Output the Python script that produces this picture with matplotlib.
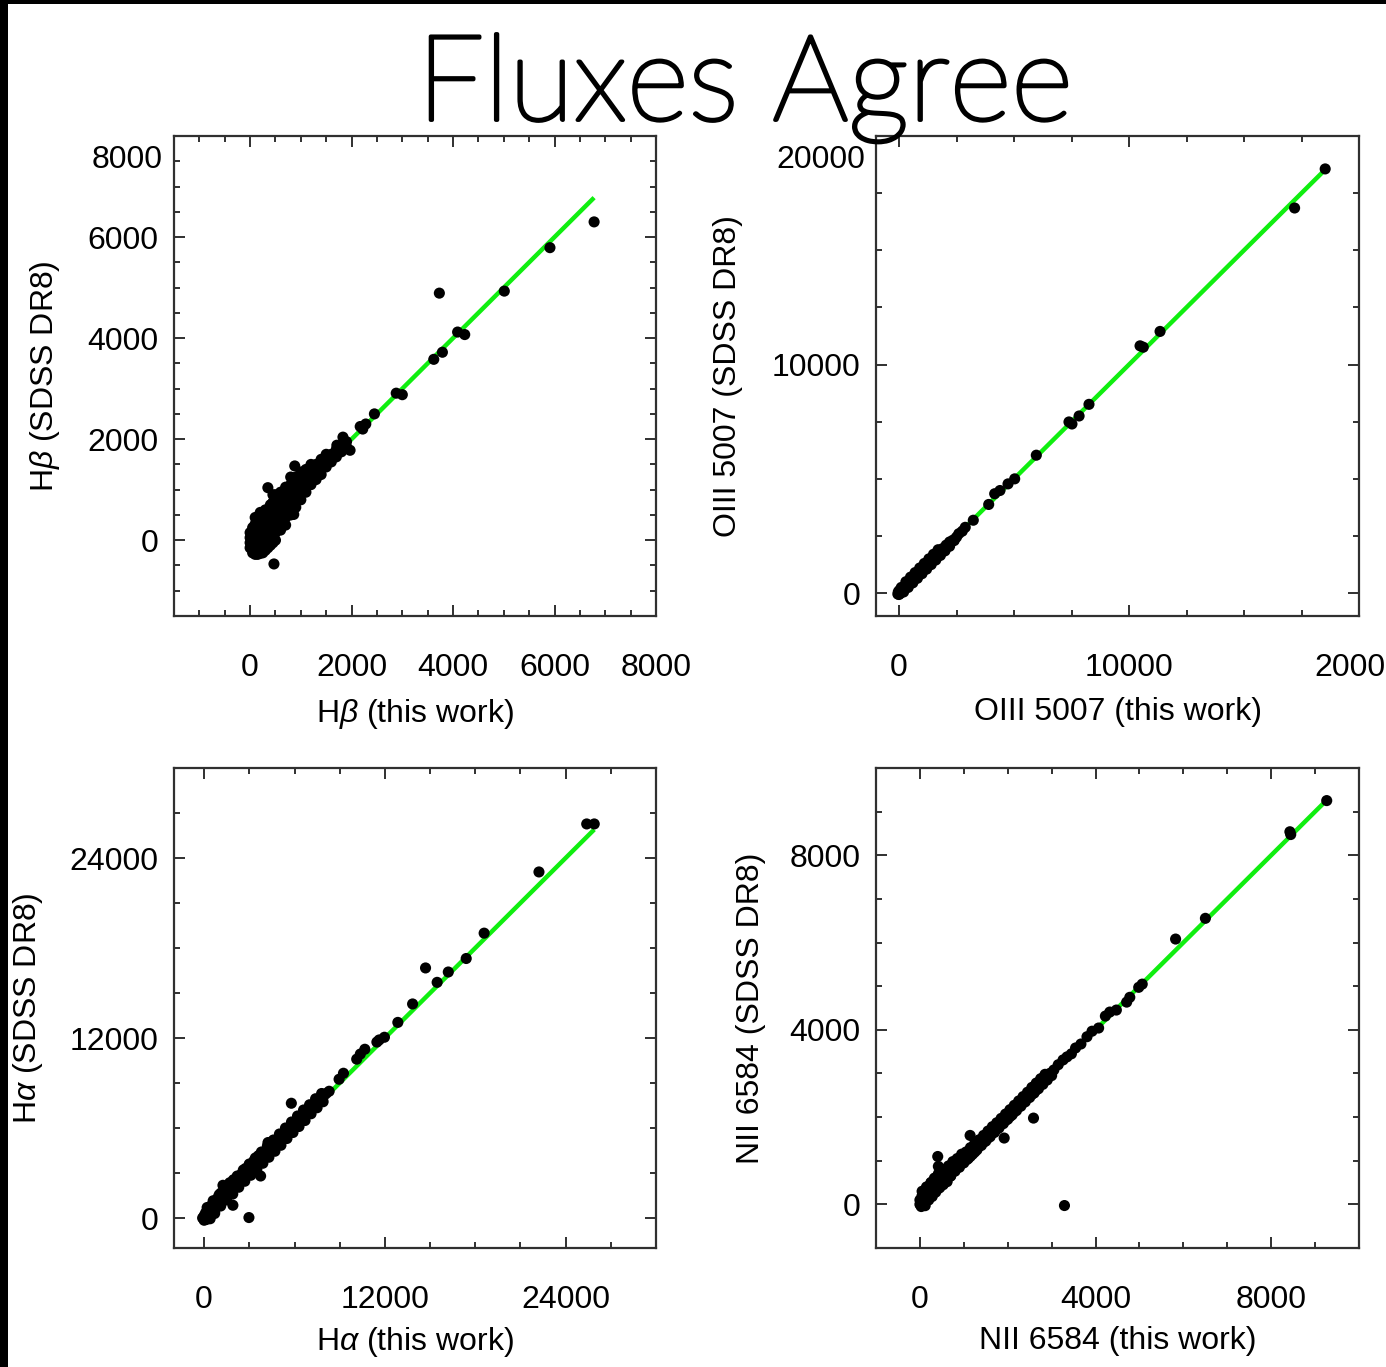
import matplotlib
matplotlib.use("Agg")
import matplotlib.pyplot as plt
import matplotlib.patheffects as pe
from matplotlib.patches import Rectangle
from matplotlib.ticker import MultipleLocator

plt.rcParams['font.family'] = ['Liberation Sans', 'DejaVu Sans']
plt.rcParams['mathtext.fontset'] = 'custom'
plt.rcParams['mathtext.rm'] = 'Liberation Sans'
plt.rcParams['mathtext.it'] = 'Liberation Sans:italic'

TITLE = "Fluxes Agree"

# ---------------- Panel 1: H-beta ----------------
hb_x = [0, 0, 0, 0,
        50, 50, 50, 50, 50, 50,
        100, 100, 100, 100, 100, 100, 100, 100,
        150, 150, 150, 150, 150, 150, 150, 150,
        200, 200, 200, 200, 200, 200, 200, 200, 200,
        250, 250, 250, 250, 250, 250, 250, 250,
        300, 300, 300, 300, 300, 300, 300, 300, 300,
        350, 350, 350, 350, 350, 350, 350, 350, 350,
        400, 400, 400, 400, 400, 400, 400, 400, 400,
        450, 450, 450, 450, 450, 450, 450, 450, 450,
        500, 500, 500, 500, 500, 500, 500,
        600, 600, 600, 600, 600, 600,
        700, 700, 700, 700, 700, 700,
        800, 800, 800, 800, 800, 800,
        860, 880, 900, 900, 900, 900, 900,
        1000, 1000, 1000, 1000, 1000,
        1100, 1100, 1100, 1100,
        1200, 1200, 1200, 1200,
        1300, 1300, 1300,
        1400, 1400, 1400,
        1500, 1500, 1500,
        1600, 1600,
        1700, 1700, 1710,
        1800, 1800, 1830,
        1900, 1900, 1970,
        2170, 2220, 2280, 2450, 2880, 3000, 3620, 3730, 3790, 4090, 4230, 5010, 5910, 6780,
        470]
hb_y = [-150, -50, 50, 150,
        -250, -150, -50, 50, 150, 250,
        -280, -180, -80, 20, 120, 220, 320, 450,
        -280, -180, -80, 20, 120, 220, 320, 420,
        -260, -160, -60, 40, 140, 240, 340, 450, 550,
        -250, -150, -50, 50, 150, 250, 350, 450,
        -200, -100, 0, 100, 200, 300, 400, 500, 600,
        -150, -50, 50, 150, 250, 350, 450, 550, 1040,
        -100, 0, 100, 200, 300, 400, 500, 600, 700,
        -50, 100, 200, 300, 400, 500, 600, 750, 900,
        0, 150, 300, 450, 600, 750, 900,
        200, 350, 500, 650, 800, 950,
        300, 450, 600, 750, 900, 1050,
        500, 650, 800, 950, 1100, 1250,
        510, 1470, 650, 800, 950, 1100, 1250,
        800, 950, 1100, 1250, 1350,
        950, 1100, 1250, 1400,
        1100, 1250, 1400, 1500,
        1200, 1350, 1500,
        1300, 1450, 1600,
        1450, 1600, 1700,
        1550, 1700,
        1650, 1800, 1880,
        1750, 1850, 2040,
        1850, 1950, 1780,
        2250, 2200, 2300, 2500, 2910, 2880, 3580, 4890, 3720, 4120, 4070, 4930, 5790, 6300,
        -470]
hb_ticks = [0, 2000, 4000, 6000, 8000]
hb_ticklabels = ["0", "2000", "4000", "6000", "8000"]

# ---------------- Panel 2: [OIII] 5007 ----------------
o3_x = [-50, -30, 0, 20, 40, 60, 80, 100, 130, 160, 200, 230, 270, 300, 350, 400, 450, 500,
        560, 620, 680, 740, 800, 870, 940, 1000, 1080, 1150, 1230, 1300, 1380, 1450, 1530,
        1600, 1680, 1750, 1830, 1900, 1980, 2050, 2130, 2200, 2280, 2350, 2750, 2880, 3230,
        3900, 4160, 4390, 4740, 5030, 5970, 7390, 7520, 7830, 8260, 10480, 10620, 11350,
        17200, 18530,
        100, 300, 500, 700, 900, 1100, 1300, 1500, 1700,
        200, 400, 600, 800, 1000, 1200, 1400, 1600, 1800, 2000, 2200, 2400, 2500, 2600]
o3_y = [-40, 60, -60, 120, -20, 40, 160, 80, 60, 200, 150, 300, 220, 350, 300, 470, 400, 560,
        500, 680, 620, 800, 720, 930, 880, 1080, 1020, 1240, 1180, 1370, 1330, 1520, 1480,
        1650, 1620, 1800, 1780, 1950, 1930, 2100, 2080, 2240, 2250, 2320, 2710, 2880, 3190,
        3880, 4350, 4490, 4780, 5000, 6035, 7490, 7400, 7750, 8260, 10820, 10760, 11450,
        16850, 18560,
        250, 500, 700, 900, 1100, 1300, 1500, 1700, 1900,
        50, 250, 450, 650, 850, 1050, 1250, 1450, 1650, 1850, 2050, 2300, 2450, 2600]
o3_ticks = [0, 10000, 20000]
o3_ticklabels = ["0", "10000", "20000"]

# ---------------- Panel 3: H-alpha ----------------
ha_x = [-100, 0, 0, 100, 150, 200, 300, 350, 400, 450, 500, 600, 650, 700, 800, 850, 950, 1000,
        1100, 1200, 1250, 1300, 1400, 1500, 1600, 1700, 1800, 1910, 1950, 2100, 2200, 2350, 2500,
        2600, 2750, 2900, 2975, 3000, 3150, 3300, 3450, 3600, 3750, 3800, 3950, 4100, 4240, 4300,
        4450, 4600, 4750, 4900, 5050, 5200, 5350, 5500, 5650, 5790, 5800, 5950, 6100, 6250, 6400,
        6550, 6700, 6850, 7000, 7150, 7300, 7450, 7600, 7750, 7900, 8100, 8300,
        8960, 9250, 10130, 10370, 10670, 11470, 11620, 11970, 12860, 13840, 14700, 15470,
        16210, 17400, 18590, 22230, 25400, 25900,
        200, 600, 1000, 1400, 1800, 2200, 2600, 3000, 3400, 3800, 4200, 4600, 5000, 5400,
        5800, 6200, 6600, 7000, 7400, 7800,
        300, 700, 1100, 1500, 1900, 2300, 2700, 3100, 3500, 3900, 4300, 4700, 5100, 5500,
        5900, 6300, 6700, 7100, 7500, 7900]
ha_y = [0, -150, 150, 350, -100, 150, 550, 250, -50, 800, 400, 1000, 600, 300, 1200, 850, 1400, 1100,
        1650, 1300, 2180, 1850, 1550, 2050, 1800, 2350, 2050, 850, 2550, 2300, 2750, 2500, 2950,
        2750, 3300, 3100, 30, 3550, 3400, 3800, 3600, 4150, 2800, 3950, 4400, 4250, 5030, 4600,
        4850, 4750, 5150, 5050, 5450, 5350, 5700, 5650, 6000, 7650, 5950, 6300, 6250, 6600, 6550,
        6900, 6850, 7200, 7150, 7500, 7450, 7700, 7750, 8000, 8050, 8300, 8450,
        9250, 9650, 10590, 10930, 11250, 11730, 11870, 12050, 13040, 14270, 16670, 15710,
        16400, 17300, 18990, 23070, 26270, 26270,
        700, 1150, 1550, 1950, 2350, 2800, 3200, 3600, 4000, 4400, 4800, 5200, 5600, 6000,
        6400, 6800, 7200, 7550, 7950, 8300,
        0, 400, 800, 1200, 1600, 2050, 2450, 2850, 3250, 3650, 4050, 4450, 4850, 5300,
        5700, 6100, 6500, 6950, 7350, 7750]
ha_ticks = [0, 12000, 24000]
ha_ticklabels = ["0", "12000", "24000"]

# ---------------- Panel 4: [NII] 6584 ----------------
n2_x = [0, 0, 30, 50, 80, 100, 120, 150, 180, 200, 230, 260, 280, 300, 330, 360, 380, 406, 420,
        420, 450, 480, 500, 530, 560, 600, 620, 650, 700, 720, 760, 800, 850, 900, 950, 1000,
        1067, 1100, 1143, 1150, 1200, 1250, 1300, 1350, 1400, 1450, 1500, 1550, 1600, 1650,
        1700, 1750, 1800, 1850, 1919, 1900, 1950, 2000, 2055, 2100, 2150, 2200, 2250, 2300,
        2350, 2400, 2450, 2500, 2587, 2550, 2600, 2650, 2700, 2750, 2800, 2850, 2900, 2968,
        3050, 3150, 3260, 3292, 3350, 3450, 3545, 3667, 3805, 3920, 4070, 4224, 4324, 4474,
        4709, 4780, 4983, 5063, 5823, 6502, 8426, 8445, 9265,
        50, 150, 250, 350, 450, 550, 650, 750, 850, 950, 1050, 1150, 1250, 1350, 1450, 1550,
        1650, 1750, 1850, 1950, 2050, 2150, 2250, 2350, 2450, 2550, 2650, 2750, 2850,
        100, 200, 300, 400, 500, 600, 700, 800, 900, 1000, 1100, 1200, 1300, 1400, 1500, 1600,
        1700, 1800, 1900, 2000, 2100, 2200, 2300, 2400, 2500, 2600, 2700, 2800, 2900, 3000]
n2_y = [0, 100, -50, 200, 50, 300, -30, 150, 400, 100, 250, 500, 180, 350, 600, 280, 450, 1097, 871,
        700, 380, 550, 800, 450, 650, 750, 520, 850, 650, 900, 780, 950, 850, 1050, 950, 1100,
        1024, 1200, 1580, 1100, 1280, 1200, 1380, 1330, 1450, 1420, 1560, 1520, 1650, 1630,
        1750, 1720, 1850, 1830, 1520, 1950, 1920, 2050, 2014, 2150, 2120, 2250, 2230, 2350,
        2330, 2450, 2430, 2550, 1977, 2520, 2700, 2620, 2750, 2800, 2780, 2880, 2950, 3006,
        3080, 3200, 3310, -27, 3380, 3450, 3584, 3675, 3842, 3968, 4041, 4315, 4407, 4453,
        4635, 4745, 4974, 5047, 6080, 6555, 8539, 8475, 9253,
        300, 400, 500, 600, 700, 800, 880, 980, 1050, 1150, 1200, 1300, 1400, 1480, 1580, 1680,
        1780, 1870, 1970, 2070, 2170, 2270, 2370, 2470, 2570, 2680, 2780, 2880, 2980,
        50, 150, 250, 350, 450, 560, 650, 760, 850, 950, 1050, 1150, 1250, 1350, 1450, 1550,
        1650, 1750, 1850, 1950, 2050, 2150, 2250, 2350, 2450, 2550, 2650, 2750, 2850, 2950]
n2_ticks = [0, 4000, 8000]
n2_ticklabels = ["0", "4000", "8000"]

panels = [
    dict(x=hb_x, y=hb_y, lim=(-1500, 8000), ticks=hb_ticks, labels=hb_ticklabels, minor=500,
         xlabel=r'H$\beta$ (this work)', ylabel=r'H$\beta$ (SDSS DR8)',
         rect=(174, 136, 656, 616), top_label=True, ylab_x=-0.232, xlab_y=-0.168),
    dict(x=o3_x, y=o3_y, lim=(-1000, 20000), ticks=o3_ticks, labels=o3_ticklabels, minor=2500,
         xlabel='OIII 5007 (this work)', ylabel='OIII 5007 (SDSS DR8)',
         rect=(876, 136, 1359, 616), top_label=True, ylab_x=-0.276, xlab_y=-0.168),
    dict(x=ha_x, y=ha_y, lim=(-2000, 30000), ticks=ha_ticks, labels=ha_ticklabels, minor=3000,
         xlabel=r'H$\alpha$ (this work)', ylabel=r'H$\alpha$ (SDSS DR8)',
         rect=(174, 768, 656, 1248), top_label=False, ylab_x=-0.268, xlab_y=-0.160),
    dict(x=n2_x, y=n2_y, lim=(-1000, 10000), ticks=n2_ticks, labels=n2_ticklabels, minor=1000,
         xlabel='NII 6584 (this work)', ylabel='NII 6584 (SDSS DR8)',
         rect=(876, 768, 1359, 1248), top_label=False, ylab_x=-0.228, xlab_y=-0.163),
]

W, H = 1386, 1367
fig = plt.figure(figsize=(W / 100, H / 100), dpi=100)
fig.patch.set_facecolor('white')

FS = 23
EDGE = '#303030'
for p in panels:
    l, t, r, b = p['rect']
    ax = fig.add_axes([l / W, 1 - b / H, (r - l) / W, (b - t) / H])
    lo, hi = p['lim']
    ax.set_xlim(lo, hi)
    ax.set_ylim(lo, hi)
    xs, ys = p['x'], p['y']
    xmin, xmax = min(xs), max(xs)
    ax.plot([max(xmin, 0), xmax], [max(xmin, 0), xmax], color='#10EE10', lw=3.2,
            solid_capstyle='butt', zorder=2)
    ax.scatter(xs, ys, s=64, color='black', edgecolors='none', zorder=3)
    ax.set_xticks(p['ticks'])
    ax.set_xticklabels(p['labels'])
    ax.set_yticks(p['ticks'])
    ylabels = list(p['labels'])
    if p['top_label']:
        ylabels[-1] = ''
    ax.set_yticklabels(ylabels)
    ax.xaxis.set_minor_locator(MultipleLocator(p['minor']))
    ax.yaxis.set_minor_locator(MultipleLocator(p['minor']))
    ax.tick_params(which='both', direction='in', top=True, right=True, color=EDGE, width=1.4)
    ax.tick_params(which='major', length=8)
    ax.tick_params(which='minor', length=4)
    ax.tick_params(axis='x', which='major', pad=27, labelsize=FS)
    ax.tick_params(axis='y', which='major', pad=11, labelsize=FS)
    for sp in ax.spines.values():
        sp.set_color(EDGE)
        sp.set_linewidth(1.6)
    if p['top_label']:
        ax.annotate(p['labels'][-1], xy=(0, 1), xycoords='axes fraction',
                    xytext=(-8, -17), textcoords='offset points',
                    ha='right', va='center', fontsize=FS)
    ax.set_xlabel(p['xlabel'], fontsize=FS)
    ax.set_ylabel(p['ylabel'], fontsize=FS)
    ax.xaxis.set_label_coords(0.5, p['xlab_y'])
    ax.yaxis.set_label_coords(p['ylab_x'], 0.5)

fig.text(745 / W, 1 - 120 / H, TITLE, ha='center', va='baseline', fontsize=86,
         family=['Lato', 'Open Sans', 'DejaVu Sans'], fontweight='light', color='black',
         path_effects=[pe.withStroke(linewidth=2.8, foreground='black')])

# black frame strips at left and top edges
fig.patches.append(Rectangle((0, 0), 8 / W, 1, transform=fig.transFigure,
                             facecolor='black', edgecolor='none', zorder=10))
fig.patches.append(Rectangle((0, 1 - 4 / H), 1, 4 / H, transform=fig.transFigure,
                             facecolor='black', edgecolor='none', zorder=10))

fig.savefig('out.png', dpi=100)
